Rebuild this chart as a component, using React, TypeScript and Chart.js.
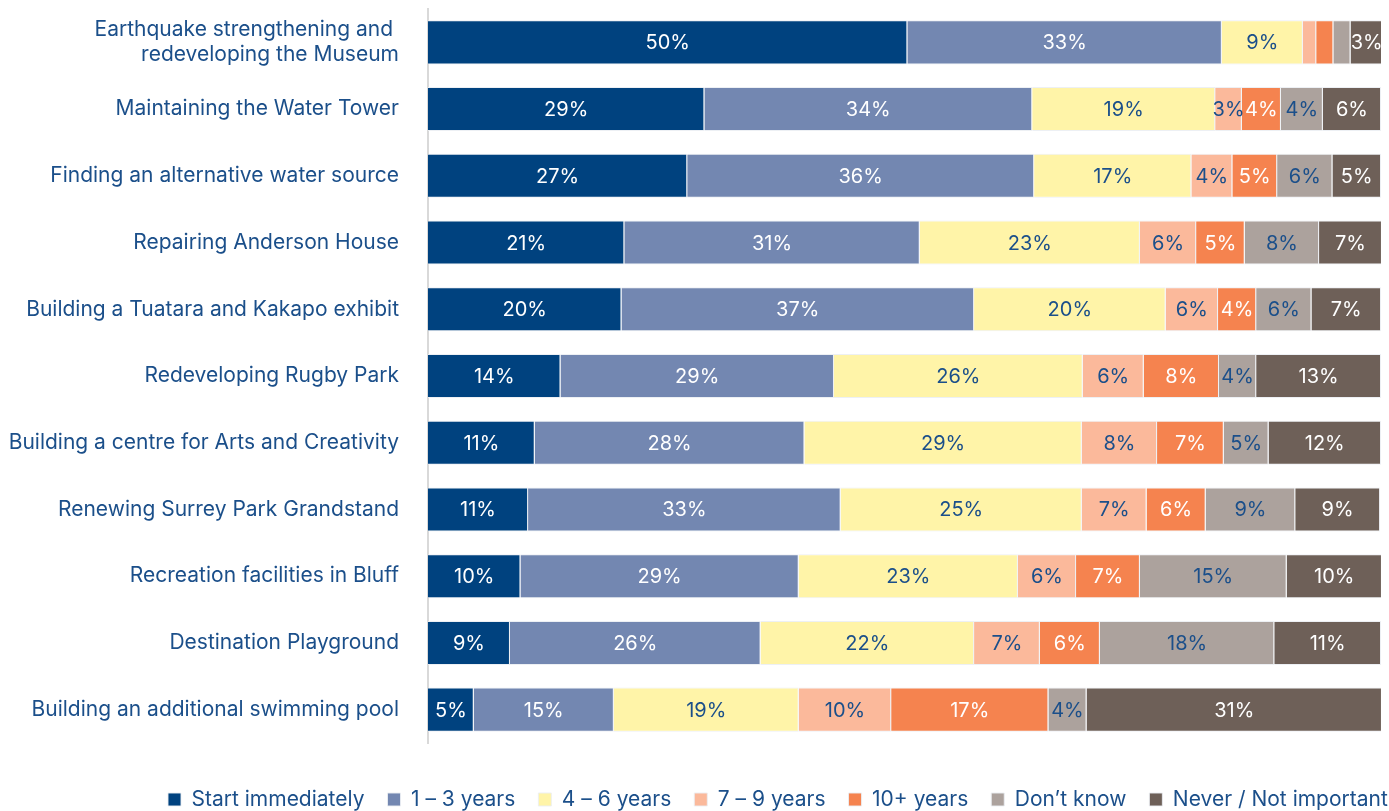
import React, { useEffect, useRef } from "react";
import { Chart, registerables } from "chart.js";

Chart.register(...registerables);

const categories: (string | string[])[] = [
  ["Earthquake strengthening and ", "redeveloping the Museum"],
  "Maintaining the Water Tower",
  "Finding an alternative water source",
  "Repairing Anderson House",
  "Building a Tuatara and Kakapo exhibit",
  "Redeveloping Rugby Park",
  "Building a centre for Arts and Creativity",
  "Renewing Surrey Park Grandstand",
  "Recreation facilities in Bluff",
  "Destination Playground",
  "Building an additional swimming pool",
];

const seriesNames = [
  "Start immediately",
  "1 \u2013 3 years",
  "4 \u2013 6 years",
  "7 \u2013 9 years",
  "10+ years",
  "Don\u2019t know",
  "Never / Not important",
];

const startImmediately = [50.3, 29, 27.2, 20.6, 20.3, 13.9, 11.2, 10.5, 9.7, 8.6, 4.8];
const oneToThree = [33, 34.4, 36.4, 31, 37, 28.7, 28.3, 32.8, 29.2, 26.3, 14.7];
const fourToSix = [8.5, 19.2, 16.5, 23.1, 20.1, 26.1, 29.1, 25.3, 23, 22.4, 19.4];
const sevenToNine = [1.4, 2.8, 4.3, 5.9, 5.5, 6.4, 7.9, 6.8, 6.1, 6.9, 9.7];
const tenPlus = [1.8, 4.1, 4.7, 5.1, 4, 7.9, 7, 6.2, 6.7, 6.3, 16.5];
const dontKnow = [1.8, 4.4, 5.8, 7.8, 5.8, 3.9, 4.7, 9.4, 15.4, 18.3, 4];
const never = [3.4, 6.1, 5.1, 6.6, 7.3, 13.1, 11.8, 8.9, 10, 11.2, 31];

const seriesValues = [startImmediately, oneToThree, fourToSix, sevenToNine, tenPlus, dontKnow, never];
const seriesColors = ["#00427f", "#7387b1", "#fff4a8", "#fbb99b", "#f5834f", "#aca29d", "#6e6058"];
const labelColors = ["#ffffff", "#ffffff", "#1b4f8a", "#1b4f8a", "#ffffff", "#1b4f8a", "#ffffff"];

const TEXT = "#1b4f8a";
const FONT = "Inter, 'Noto Sans', sans-serif";

const valueLabels = {
  id: "valueLabels",
  afterDatasetsDraw(chart: any) {
    const ctx = chart.ctx;
    ctx.save();
    ctx.font = `400 20px ${FONT}`;
    ctx.textAlign = "center";
    ctx.textBaseline = "middle";
    chart.data.datasets.forEach((ds: any, di: number) => {
      const meta = chart.getDatasetMeta(di);
      meta.data.forEach((el: any, i: number) => {
        const v = Math.round(ds.data[i]);
        if (v < 3) return;
        const p = el.getProps(["x", "base", "y"], true);
        ctx.fillStyle = labelColors[di];
        ctx.fillText(`${v}%`, (p.x + p.base) / 2, p.y + 1);
      });
    });
    ctx.restore();
  },
};

const legendShift = {
  id: "legendShift",
  afterLayout(chart: any) {
    const lg = chart.legend;
    if (!lg) return;
    lg.left = 145;
    lg.right = 3000;
  },
};

export default function App() {
  const ref = useRef<HTMLCanvasElement | null>(null);
  useEffect(() => {
    if (!ref.current) return;
    const chart = new Chart(ref.current, {
      type: "bar",
      data: {
        labels: categories,
        datasets: seriesNames.map((name, i) => ({
          label: name,
          data: seriesValues[i],
          backgroundColor: seriesColors[i],
          borderColor: "rgba(235,238,243,0.9)",
          borderWidth: 1,
          barPercentage: 0.66,
          categoryPercentage: 1,
        })),
      },
      options: {
        indexAxis: "y",
        animation: false,
        responsive: true,
        maintainAspectRatio: false,
        layout: { padding: { top: 9, right: 8, left: 0, bottom: 0 } },
        scales: {
          x: {
            stacked: true,
            min: 0,
            max: 100,
            ticks: { display: false },
            grid: { display: false, drawTicks: false },
            border: { display: false },
            afterFit: (s: any) => {
              s.height = 23;
              s.paddingLeft = 0;
              s.paddingRight = 0;
            },
          },
          y: {
            stacked: true,
            ticks: {
              color: TEXT,
              padding: 29,
              font: { family: FONT, size: 21 },
            },
            grid: { display: false, drawTicks: false },
            border: { display: true, color: "#d9d9d9", width: 2 },
            afterFit: (s: any) => {
              s.width = 428;
              s.paddingTop = 0;
              s.paddingBottom = 0;
            },
          },
        },
        plugins: {
          legend: {
            position: "bottom",
            align: "start",
            labels: {
              boxWidth: 13,
              boxHeight: 13,
              padding: 23,
              color: TEXT,
              font: { family: FONT, size: 21 },
            },
          },
          tooltip: { enabled: false },
        },
      },
      plugins: [valueLabels, legendShift],
    });
    return () => chart.destroy();
  }, []);
  return (
    <div style={{ position: "fixed", left: 0, top: 0, width: 1389, height: 820, background: "#fff" }}>
      <canvas ref={ref} />
    </div>
  );
}
